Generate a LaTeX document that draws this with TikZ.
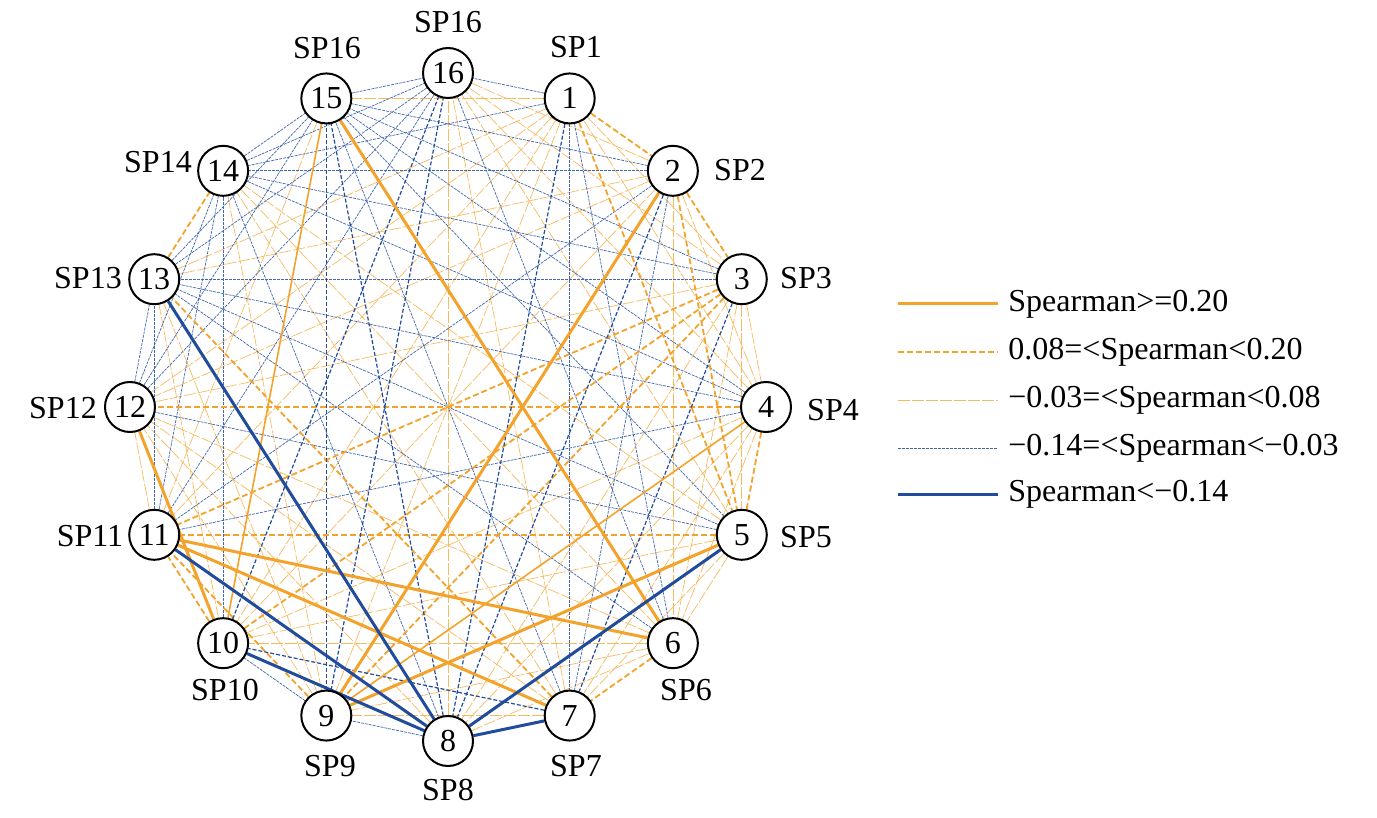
\documentclass[tikz,border=0pt]{standalone}
\usepackage{fontspec}
\setmainfont{Liberation Serif}
\usetikzlibrary{backgrounds}
\definecolor{org}{RGB}{243,163,43}
\definecolor{blu}{RGB}{33,76,156}
\begin{document}
\begin{tikzpicture}[x=0.5pt,y=-0.5pt,
  nd/.style={circle,draw=black,line width=1pt,fill=white,minimum size=25pt,inner sep=0pt,font=\fontsize{16}{18}\selectfont},
  lab/.style={font=\fontsize{16}{18}\selectfont,inner sep=0pt},
  sA/.style={org,line width=1.5pt},
  sA2/.style={org,line width=0.8pt},
  sB/.style={org,line width=0.9pt,dash pattern=on 3pt off 1.5pt},
  sC/.style={org!75,line width=0.35pt,dash pattern=on 6pt off 1pt},
  sD/.style={blu!85,line width=0.35pt,dash pattern=on 1.5pt off 0.5pt},
  sD2/.style={blu,line width=0.6pt,dash pattern=on 2pt off 1pt},
  sE/.style={blu,line width=1.5pt}]
\useasboundingbox (0,0) rectangle (1377,818);
\foreach \k in {1,...,16}
  \node[nd] (n\k) at ({448+318*cos(90-22.5*\k)},{407-334*sin(90-22.5*\k)}) {\k};
% labels
\node[lab] (l16) at (448,22) {SP16};
\node[lab] (l15) at (327,48) {SP16};
\node[lab] (l1) at (576,47) {SP1};
\node[lab] (l2) at (740,170) {SP2};
\node[lab] (l3) at (806,278) {SP3};
\node[lab] (l4) at (833,410) {SP4};
\node[lab] (l5) at (806,537) {SP5};
\node[lab] (l6) at (686,690) {SP6};
\node[lab] (l7) at (576,766) {SP7};
\node[lab] (l8) at (448,790) {SP8};
\node[lab] (l9) at (330,766) {SP9};
\node[lab] (l10) at (225,690) {SP10};
\node[lab] (l11) at (90,536) {SP11};
\node[lab] (l12) at (63,408) {SP12};
\node[lab] (l13) at (88,278) {SP13};
\node[lab] (l14) at (158,162) {SP14};
\begin{scope}[on background layer]
\foreach \a/\b in {1/3,1/4,1/9,1/10,1/11,1/12,1/13,1/15,2/4,2/6,2/10,2/12,2/13,2/16,3/4,3/5,3/6,3/8,3/12,3/16,4/6,4/7,4/8,4/10,4/16,5/6,5/7,5/10,5/14,5/16,6/8,6/9,6/10,6/12,6/14,7/9,7/12,7/14,7/16,8/12,8/16,9/12,9/13,9/14,10/13,11/12,11/15}
  \draw[sC] (n\a) -- (n\b);
\foreach \a/\b in {1/6,1/7,1/14,1/16,2/7,2/11,2/14,2/15,3/13,3/14,3/15,4/11,4/13,4/14,4/15,5/12,5/13,5/15,6/13,6/16,7/15,8/9,8/14,9/10,10/14,11/13,11/14,11/16,12/13,12/14,12/15,12/16,13/15,13/16,14/15,14/16,15/16}
  \draw[sD] (n\a) -- (n\b);
\foreach \a/\b in {1/2,1/5,2/3,2/5,3/9,3/10,3/11,4/5,4/12,5/11,6/7,7/13,9/11,10/11,13/14}
  \draw[sB] (n\a) -- (n\b);
\foreach \a/\b in {1/8,2/8,3/7,7/10,8/15,9/15,9/16,10/16}
  \draw[sD2] (n\a) -- (n\b);
\foreach \a/\b in {4/9,10/15}
  \draw[sA2] (n\a) -- (n\b);
\foreach \a/\b in {2/9,6/15,6/11,7/11,10/12,5/9}
  \draw[sA] (n\a) -- (n\b);
\foreach \a/\b in {5/8,7/8,8/10,8/11,8/13}
  \draw[sE] (n\a) -- (n\b);
\end{scope}
% legend
\foreach \i/\y/\s/\t in {1/304/sA/{Spearman>=0.20},2/352/sB/{0.08=<Spearman<0.20},3/400/sC/{−0.03=<Spearman<0.08},4/448/sD/{−0.14=<Spearman<−0.03},5/494/sE/{Spearman<−0.14}}{
  \coordinate (la\i) at (898,\y);
  \coordinate (lb\i) at (998,\y);
  \draw[\s] (la\i) -- (lb\i);
  \node[lab,anchor=west] (lt\i) at (1008,\y) {\t};
}
\end{tikzpicture}
\end{document}
